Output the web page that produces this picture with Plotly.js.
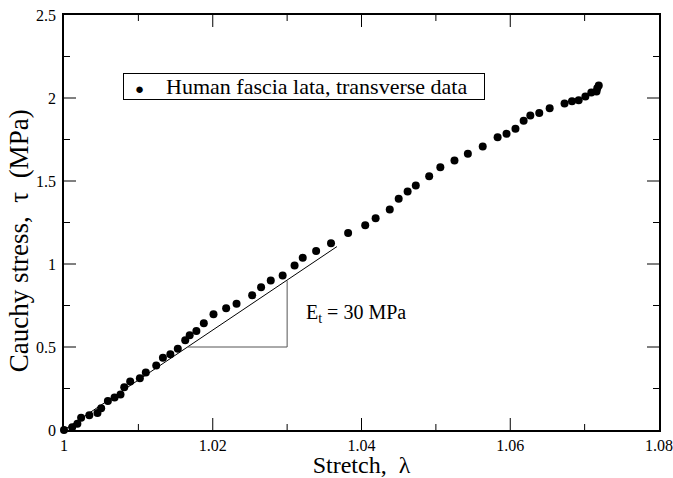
<!DOCTYPE html>
<html><head><meta charset="utf-8">
<script src="https://cdn.plot.ly/plotly-3.0.1.min.js"></script>
<style>html,body{margin:0;padding:0;background:#fff}#chart{width:673px;height:478px}</style>
</head><body><div id="chart"></div>
<script>
// Human fascia lata, transverse data
const stretch = [1.0000,1.0011,1.0018,1.0023,1.0034,1.0045,1.0050,1.0059,1.0068,1.0076,1.0081,1.0089,1.0102,1.0110,1.0124,1.0133,1.0143,1.0153,1.0163,1.0169,1.0178,1.0188,
  1.0201,1.0218,1.0232,1.0253,1.0265,1.0278,1.0294,1.0310,1.0321,1.0339,1.0359,
  1.0382,1.0405,1.0419,1.0438,1.0450,1.0462,1.0473,1.0491,1.0506,1.0525,1.0543,1.0563,1.0583,
  1.0595,1.0607,1.0618,1.0627,1.0639,1.0653,1.0673,1.0683,1.0692,1.0701,1.0709,1.0716,1.0717,1.0719];
const stress = [0.000,0.017,0.037,0.074,0.089,0.103,0.131,0.174,0.196,0.214,0.258,0.292,0.312,0.347,0.388,0.435,0.457,0.489,0.541,0.571,0.597,0.643,
  0.698,0.734,0.760,0.812,0.860,0.901,0.931,0.991,1.037,1.078,1.125,
  1.186,1.234,1.276,1.328,1.393,1.436,1.473,1.528,1.583,1.624,1.664,1.708,1.764,
  1.784,1.815,1.863,1.895,1.909,1.939,1.967,1.980,1.987,2.009,2.033,2.039,2.059,2.076];
// Tangent modulus line, E_t = 30 MPa
const fitX = [1.0, 1.0367];
const fitY = [0.0, 1.105];
const triX = [1.01667, 1.0300, 1.0300];
const triY = [0.5, 0.5, 0.90];
const xRange = [1, 1.08];
const yRange = [0, 2.5];
const xMajor = [1.02, 1.04, 1.06];
const xMinor = [1.01, 1.03, 1.05, 1.07];
const yMajor = [0.5, 1, 1.5, 2];
const yMinor = [0.25, 0.75, 1.25, 1.75, 2.25];
const seriesName = 'Human fascia lata, transverse data';

const serif = 'Liberation Serif';
const traces = [
  {x: fitX, y: fitY, mode: 'lines', line: {color: '#000', width: 1}, showlegend: false, hoverinfo: 'skip'},
  {x: triX, y: triY, mode: 'lines', line: {color: '#555', width: 1}, showlegend: false, hoverinfo: 'skip'},
  {x: stretch, y: stress, mode: 'markers', name: seriesName, showlegend: false,
   marker: {color: '#000', size: 8}, cliponaxis: false}
];

// inside tick marks on all four sides, built from the tick value arrays
const tickShapes = [];
function xTick(v, len) {
  tickShapes.push({type: 'line', xref: 'x', yref: 'paper', ysizemode: 'pixel', yanchor: 0,
    x0: v, x1: v, y0: 0, y1: len, line: {color: '#000', width: 1}, layer: 'above'});
  tickShapes.push({type: 'line', xref: 'x', yref: 'paper', ysizemode: 'pixel', yanchor: 1,
    x0: v, x1: v, y0: 0, y1: -len, line: {color: '#000', width: 1}, layer: 'above'});
}
function yTick(v, len) {
  tickShapes.push({type: 'line', xref: 'paper', yref: 'y', xsizemode: 'pixel', xanchor: 0,
    x0: 0, x1: len, y0: v, y1: v, line: {color: '#000', width: 1}, layer: 'above'});
  tickShapes.push({type: 'line', xref: 'paper', yref: 'y', xsizemode: 'pixel', xanchor: 1,
    x0: 0, x1: -len, y0: v, y1: v, line: {color: '#000', width: 1}, layer: 'above'});
}
xMajor.forEach(v => xTick(v, 12));
xMinor.forEach(v => xTick(v, 6));
yMajor.forEach(v => yTick(v, 12));
yMinor.forEach(v => yTick(v, 6));

const layout = {
  width: 673, height: 478,
  margin: {l: 64, r: 14, t: 15, b: 48},
  paper_bgcolor: '#fff', plot_bgcolor: '#fff',
  font: {family: serif, color: '#000'},
  showlegend: false,
  xaxis: {
    range: xRange, tickmode: 'linear', tick0: 1, dtick: 0.02,
    showgrid: false, zeroline: false, showline: true, linecolor: '#000', linewidth: 1.5,
    mirror: true, ticks: '', ticklabelstandoff: 0,
    tickfont: {family: serif, size: 16, color: '#000'},
    title: {text: 'Stretch,  λ', font: {family: serif, size: 24}, standoff: 11}
  },
  yaxis: {
    range: yRange, tickmode: 'linear', tick0: 0, dtick: 0.5,
    showgrid: false, zeroline: false, showline: true, linecolor: '#000', linewidth: 1.5,
    mirror: true, ticks: '', ticklabelstandoff: 3,
    tickfont: {family: serif, size: 16, color: '#000'}
  },
  shapes: tickShapes,
  annotations: [
    {x: 1.0323, y: 0.70, xref: 'x', yref: 'y', xanchor: 'left', yanchor: 'middle',
     text: 'E<sub>t</sub> = 30 MPa', showarrow: false,
     font: {family: serif, size: 20, color: '#000'}},
    {x: -0.0756, y: 0.455, xref: 'paper', yref: 'paper', xanchor: 'center', yanchor: 'middle',
     textangle: -90, text: 'Cauchy stress,  τ  (MPa)', showarrow: false,
     font: {family: serif, size: 27, color: '#000'}},
    {x: 0.0992, y: 0.860, xref: 'paper', yref: 'paper', xanchor: 'left', yanchor: 'top',
     text: '  <span style="font-size:15px">●</span>    ' + seriesName + '   ', showarrow: false,
     align: 'left', bordercolor: '#000', borderwidth: 1, borderpad: 0, bgcolor: '#fff',
     font: {family: serif, size: 22, color: '#000'}}
  ]
};
Plotly.newPlot('chart', traces, layout, {displayModeBar: false});
</script></body></html>
